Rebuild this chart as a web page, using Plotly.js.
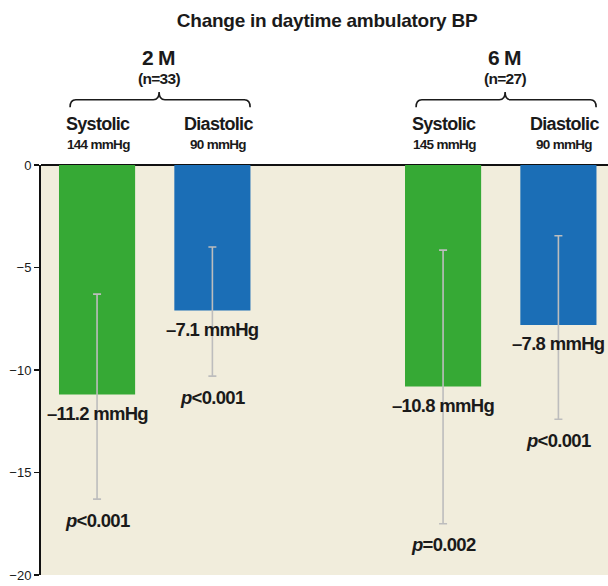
<!DOCTYPE html>
<html><head><meta charset="utf-8">
<script src="https://cdn.plot.ly/plotly-3.0.1.min.js"></script>
<style>html,body{margin:0;padding:0;background:#fff;}#chart{width:608px;height:586px;}
.annotation-text{letter-spacing:-0.7px;} .gtitle{letter-spacing:-0.25px;}</style>
</head><body><div id="chart"></div>
<script>
// ---- data ----
const groups = ["2 M", "6 M"];
const groupN = ["(n=33)", "(n=27)"];
const measures = ["Systolic", "Diastolic"];
const baselines = [["144 mmHg", "90 mmHg"], ["145 mmHg", "90 mmHg"]];
const changes = [-11.2, -7.1, -10.8, -7.8];
const ciLow = [-16.3, -10.3, -17.5, -12.4];
const ciHigh = [-6.3, -4.0, -4.15, -3.45];
const valueLabels = ["–11.2 mmHg", "–7.1 mmHg", "–10.8 mmHg", "–7.8 mmHg"];
const pLabels = ["<i>p</i>&lt;0.001", "<i>p</i>&lt;0.001", "<i>p</i>=0.002", "<i>p</i>&lt;0.001"];
const yTicks = [0, -5, -10, -15, -20];

const GREEN = "#36A935", BLUE = "#1B6EB6";
const FONT = "'Liberation Sans Narrow', 'Liberation Sans', Arial, sans-serif";
const TXT = "#1a1a1a";

// x positions derived from group/measure indices (gap of one slot between groups)
const xs = [], colors = [];
groups.forEach((g, gi) => measures.forEach((m, mi) => { xs.push(gi * 3 + mi); colors.push(mi === 0 ? GREEN : BLUE); }));

const trace = {
  type: "bar", x: xs, y: changes, width: 0.66,
  marker: {color: colors, line: {width: 0}},
  error_y: {type: "data", symmetric: false,
    array: changes.map((v, i) => ciHigh[i] - v),
    arrayminus: changes.map((v, i) => v - ciLow[i]),
    color: "#BDBDBD", thickness: 1.6, width: 4},
  hoverinfo: "none"
};

const ann = [];
xs.forEach((x, i) => {
  ann.push({x: x, y: changes[i], xref: "x", yref: "y", text: valueLabels[i], showarrow: false,
    yanchor: "middle", yshift: -19, font: {family: FONT, size: 18.5, color: TXT, weight: "bold"}});
  ann.push({x: x, y: ciLow[i], xref: "x", yref: "y", text: pLabels[i], showarrow: false,
    yanchor: "middle", yshift: -21, font: {family: FONT, size: 18.5, color: TXT, weight: "bold"}});
});
const shapes = [];
groups.forEach((g, gi) => {
  const cx = gi * 3 + 0.5;
  ann.push({x: cx, y: 1.261, xref: "x", yref: "paper", text: g, showarrow: false, xshift: 4,
    yanchor: "middle", font: {family: FONT, size: 21, color: TXT, weight: "bold"}});
  ann.push({x: cx, y: 1.212, xref: "x", yref: "paper", text: groupN[gi], showarrow: false, xshift: 4,
    yanchor: "middle", font: {family: FONT, size: 15.5, color: TXT, weight: "bold"}});
  measures.forEach((m, mi) => {
    const x = gi * 3 + mi;
    const sh = mi === 0 ? 1 : 6;
    ann.push({x: x, y: 1.10, xref: "x", yref: "paper", text: m, showarrow: false, xshift: sh,
      yanchor: "middle", font: {family: FONT, size: 18, color: TXT, weight: "bold"}});
    ann.push({x: x, y: 1.051, xref: "x", yref: "paper", text: baselines[gi][mi], showarrow: false, xshift: sh,
      yanchor: "middle", font: {family: FONT, size: 13.5, color: TXT, weight: "bold"}});
  });
  // curly brace
  const L = gi * 3 - 0.234, R = gi * 3 + 1.327, C = gi * 3 + 0.538, d = 0.05;
  const yb = 1.141, ym = 1.159, yt = 1.178;
  const path = `M ${L},${yb} Q ${L},${ym} ${L + d},${ym} L ${C - d},${ym} Q ${C},${ym} ${C},${yt} Q ${C},${ym} ${C + d},${ym} L ${R - d},${ym} Q ${R},${ym} ${R},${yb}`;
  shapes.push({type: "path", xref: "x", yref: "paper", path: path, line: {color: TXT, width: 1.6}});
});

const layout = {
  width: 608, height: 586,
  margin: {l: 41, r: 0, t: 165, b: 11},
  paper_bgcolor: "#ffffff", plot_bgcolor: "#F1EDDC",
  showlegend: false,
  title: {text: "Change in daytime ambulatory BP", x: 0.538, xref: "container", y: 0.966, yref: "container",
    yanchor: "middle", font: {family: FONT, size: 19, color: TXT, weight: "bold"}},
  xaxis: {range: [-0.486, 4.43], showgrid: false, zeroline: false, showticklabels: false, ticks: "", showline: false, fixedrange: true},
  yaxis: {range: [-20, 0], tickvals: yTicks, showgrid: false, zeroline: true, zerolinecolor: "#111", zerolinewidth: 2,
    showline: true, linecolor: "#111", linewidth: 2, ticks: "outside", ticklen: 5, tickwidth: 1.5, tickcolor: "#111",
    tickfont: {family: FONT, size: 13, color: TXT}, fixedrange: true},
  annotations: ann, shapes: shapes
};
Plotly.newPlot("chart", [trace], layout, {staticPlot: true});
</script></body></html>
